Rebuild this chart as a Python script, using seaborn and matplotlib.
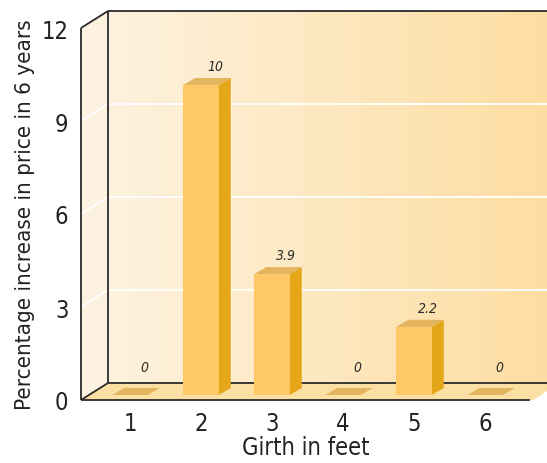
import numpy as np
import pandas as pd
import matplotlib
matplotlib.use("Agg")
import matplotlib.pyplot as plt
from matplotlib.patches import Polygon
import seaborn as sns

# Data
girth = ["1", "2", "3", "4", "5", "6"]
increase = [0, 10, 3.9, 0, 2.2, 0]
y_ticks = [0, 3, 6, 9, 12]
x_title = "Girth in feet"
y_title = "Percentage increase in price in 6 years"

sns.set_style("white")
plt.rcParams["font.family"] = ["DejaVu Sans"]
plt.rcParams["font.stretch"] = "condensed"

W, H = 547, 464
fig = plt.figure(figsize=(W / 100, H / 100), dpi=100)

# Front plane of the box and the plane the bars stand on (a little deeper)
box = [81 / W, 1 - 401 / H, (530 - 81) / W, (401 - 29) / H]
ax = fig.add_axes(box)
ax_b = fig.add_axes([box[0], box[1] + 5 / H, box[2], box[3]])

XL, XR = -49 / 71, 400 / 71
YMAX = 12
for a in (ax, ax_b):
    a.set_xlim(XL, XR)
    a.set_ylim(0, YMAX)
    a.set_facecolor("none")
    for s in a.spines.values():
        s.set_visible(False)

# pixel -> data conversions
px_x = (XR - XL) / 449.0
px_y = YMAX / 372.0
ddx, ddy = 27 * px_x, 17 * px_y  # depth of the box
bdx, bdy = 12 * px_x, 7 * px_y   # depth of a bar

EDGE = "#2b2b2b"
WALL_L = "#fdf1df"
FLOOR = "#fcdfa2"

# back wall with a soft left-to-right gradient
c0 = np.array([254, 242, 222]) / 255
c1 = np.array([253, 221, 160]) / 255
t = np.linspace(0, 1, 256)[None, :, None]
grad = c0 + (c1 - c0) * t
bx0, bx1 = XL + ddx, XR + ddx
by0, by1 = ddy, YMAX + ddy
im = ax.imshow(grad, extent=[bx0, bx1, by0, by1], aspect="auto", zorder=0,
               interpolation="bilinear")
im.set_clip_on(False)

# left wall
ax.add_patch(Polygon([(XL, 0), (XL, YMAX), (XL + ddx, YMAX + ddy), (XL + ddx, ddy)],
                     closed=True, facecolor=WALL_L, edgecolor="none", zorder=1, clip_on=False))
# floor
ax.add_patch(Polygon([(XL, 0), (XR + 3 * px_x, 0), (XR + ddx + 3 * px_x, ddy), (XL + ddx, ddy)],
                     closed=True, facecolor=FLOOR, edgecolor="none", zorder=1, clip_on=False))

# grid lines on the walls
for v in y_ticks[1:-1]:
    ax.plot([XL, XL + ddx, bx1], [v, v + ddy, v + ddy], color="white", lw=1.3,
            zorder=2, clip_on=False, solid_capstyle="butt")

# box edges
lk = dict(color=EDGE, lw=1.3, zorder=3, clip_on=False, solid_capstyle="butt")
ax.plot([XL, XL], [0, YMAX], **lk)
ax.plot([XL, XL + ddx], [YMAX, YMAX + ddy], **lk)
ax.plot([XL + ddx, XL + ddx], [ddy, YMAX + ddy], **lk)
ax.plot([XL + ddx, bx1], [YMAX + ddy, YMAX + ddy], **lk)
ax.plot([XL + ddx, bx1], [ddy, ddy], **lk)
ax.plot([XL, XR], [0, 0], **lk)
ax.plot([XL, XL + ddx], [0, ddy], **lk)

# bars
df = pd.DataFrame({"girth": girth, "increase": increase})
FRONT, SIDE, TOP = "#fdc865", "#e5a719", "#e2b55e"
sns.barplot(data=df, x="girth", y="increase", order=girth, ax=ax_b, color=FRONT,
            saturation=1, width=0.5, edgecolor="none", linewidth=0)
ax_b.set_xlim(XL, XR)
ax_b.set_ylim(0, YMAX)
ax_b.axis("off")

for p, v in zip(ax_b.patches, increase):
    x0, w, h = p.get_x(), p.get_width(), p.get_height()
    p.set_zorder(3)
    if h > 0:
        ax_b.add_patch(Polygon([(x0 + w, 0), (x0 + w, h), (x0 + w + bdx, h + bdy),
                                (x0 + w + bdx, bdy)], closed=True, facecolor=SIDE,
                               edgecolor="none", zorder=2, clip_on=False))
    ax_b.add_patch(Polygon([(x0, h), (x0 + w, h), (x0 + w + bdx, h + bdy), (x0 + bdx, h + bdy)],
                           closed=True, facecolor=TOP, edgecolor="none", zorder=2, clip_on=False))
    ax_b.annotate(f"{v:g}", xy=(x0 + w / 2, h), xytext=(14, 28 if h == 0 else 19),
                  textcoords="offset pixels", ha="center", va="center",
                  fontsize=10, style="italic", color="#2b2b2b", clip_on=False)

# axis ticks and titles on the front plane
ax.set_xticks(range(len(girth)))
ax.set_xticklabels(girth)
ax.set_yticks(y_ticks)
ax.set_yticklabels([str(v) for v in y_ticks])
ax.tick_params(axis="both", length=0, labelsize=17, colors="#222222")
ax.tick_params(axis="y", pad=9)
ax.tick_params(axis="x", pad=8)
ax.set_xlabel(x_title, fontsize=17, color="#222222", labelpad=0)
ax.set_ylabel(y_title, fontsize=16, color="#222222", labelpad=5)

fig.savefig("out.png", dpi=100, facecolor="white")
